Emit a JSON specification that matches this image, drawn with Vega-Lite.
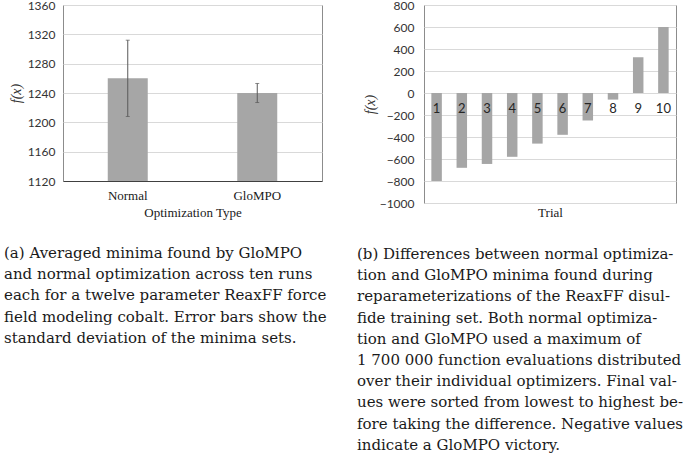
{
  "$schema": "https://vega.github.io/schema/vega-lite/v6.json",
  "padding": {"left": 3, "top": -2, "right": 0, "bottom": 0},
  "background": "white",
  "bounds": "flush",
  "spacing": 102,
  "config": {
    "view": {"stroke": "#8c8c8c", "strokeWidth": 1},
    "title": {"font": "DejaVu Serif", "fontWeight": "normal", "fontStyle": "normal"},
    "axis": {"gridColor": "#d9d9d9", "gridWidth": 1, "ticks": false, "labelColor": "#333333", "titleColor": "#333333", "labelOverlap": false, "labelFlush": false, "titleFont": "Liberation Serif", "titleFontWeight": "normal"}
  },
  "hconcat": [
    {
      "width": 259,
      "height": 176,
      "title": {
        "text": [
          "(a) Averaged minima found by GloMPO",
          "and normal optimization across ten runs",
          "each for a twelve parameter ReaxFF force",
          "field modeling cobalt. Error bars show the",
          "standard deviation of the minima sets."
        ],
        "orient": "bottom", "anchor": "start", "frame": "group", "dx": -59, "offset": 27,
        "font": "DejaVu Serif", "fontSize": 15, "fontWeight": "normal", "lineHeight": 21.2, "color": "#1a1a1a"
      },
      "data": {"values": [
        {"type": "Normal", "mean": 1260, "lo": 1208, "hi": 1312},
        {"type": "GloMPO", "mean": 1240, "lo": 1227, "hi": 1253}
      ]},
      "encoding": {
        "x": {"field": "type", "type": "nominal", "sort": null,
          "scale": {"paddingInner": 0, "paddingOuter": 0},
          "axis": {"title": "Optimization Type", "labelAngle": 0, "labelFont": "Liberation Serif", "labelFontSize": 13, "labelPadding": 8, "labelColor": "#1a1a1a",
            "domain": true, "domainColor": "#404040", "domainWidth": 1.2,
            "titleFont": "Liberation Serif", "titleFontSize": 13, "titleFontWeight": "normal", "titlePadding": 4, "titleColor": "#1a1a1a"}}
      },
      "layer": [
        {
          "mark": {"type": "bar", "color": "#a6a6a6", "width": 40},
          "encoding": {
            "y": {"field": "mean", "type": "quantitative",
              "scale": {"domain": [1120, 1360], "zero": false, "nice": false},
              "axis": {"values": [1120, 1160, 1200, 1240, 1280, 1320, 1360], "tickCount": 20, "format": "d", "title": "f(x)", "domain": false,
                "labelFont": "Lato", "labelFontSize": 12, "labelPadding": 8,
                "titleFont": "Liberation Serif", "titleFontStyle": "italic", "titleFontWeight": "normal", "titleFontSize": 14, "titlePadding": 4}},
            "y2": {"datum": 1120}
          }
        },
        {
          "mark": {"type": "rule", "color": "#595959", "strokeWidth": 1},
          "encoding": {"y": {"field": "lo", "type": "quantitative"}, "y2": {"field": "hi"}}
        },
        {
          "mark": {"type": "tick", "color": "#595959", "thickness": 1, "size": 4, "orient": "horizontal"},
          "encoding": {"y": {"field": "lo", "type": "quantitative"}}
        },
        {
          "mark": {"type": "tick", "color": "#595959", "thickness": 1, "size": 4, "orient": "horizontal"},
          "encoding": {"y": {"field": "hi", "type": "quantitative"}}
        }
      ]
    },
    {
      "width": 252,
      "height": 198,
      "title": {
        "text": [
          "(b) Differences between normal optimiza-",
          "tion and GloMPO minima found during",
          "reparameterizations of the ReaxFF disul-",
          "fide training set. Both normal optimiza-",
          "tion and GloMPO used a maximum of",
          "1 700 000 function evaluations distributed",
          "over their individual optimizers. Final val-",
          "ues were sorted from lowest to highest be-",
          "fore taking the difference. Negative values",
          "indicate a GloMPO victory."
        ],
        "orient": "bottom", "anchor": "start", "frame": "group", "dx": -67, "offset": 28,
        "font": "DejaVu Serif", "fontSize": 15, "fontWeight": "normal", "lineHeight": 21.2, "color": "#1a1a1a"
      },
      "data": {"values": [
        {"trial": "1", "diff": -800},
        {"trial": "2", "diff": -680},
        {"trial": "3", "diff": -645},
        {"trial": "4", "diff": -580},
        {"trial": "5", "diff": -460},
        {"trial": "6", "diff": -380},
        {"trial": "7", "diff": -250},
        {"trial": "8", "diff": -60},
        {"trial": "9", "diff": 325},
        {"trial": "10", "diff": 600}
      ]},
      "encoding": {
        "x": {"field": "trial", "type": "ordinal", "sort": null,
          "scale": {"paddingInner": 0, "paddingOuter": 0},
          "axis": {"title": "Trial", "labels": false, "domain": false,
            "titleFont": "Liberation Serif", "titleFontSize": 13, "titleFontWeight": "normal", "titlePadding": 3, "titleColor": "#1a1a1a"}}
      },
      "layer": [
        {
          "mark": {"type": "bar", "color": "#a6a6a6", "width": 10.5},
          "encoding": {
            "y": {"field": "diff", "type": "quantitative",
              "scale": {"domain": [-1000, 800], "nice": false},
              "axis": {"values": [-1000, -800, -600, -400, -200, 0, 200, 400, 600, 800], "tickCount": 20, "format": "d", "title": "f(x)", "domain": false,
                "labelFont": "Lato", "labelFontSize": 12, "labelPadding": 10,
                "titleFont": "Liberation Serif", "titleFontStyle": "italic", "titleFontWeight": "normal", "titleFontSize": 14, "titlePadding": 2}}
          }
        },
        {
          "mark": {"type": "rule", "color": "#404040", "strokeWidth": 1.2},
          "encoding": {"y": {"datum": 0}}
        },
        {
          "mark": {"type": "text", "font": "Lato", "fontSize": 13, "dy": 16, "color": "#262626", "baseline": "middle"},
          "encoding": {"y": {"datum": 0}, "text": {"field": "trial"}}
        }
      ]
    }
  ]
}
